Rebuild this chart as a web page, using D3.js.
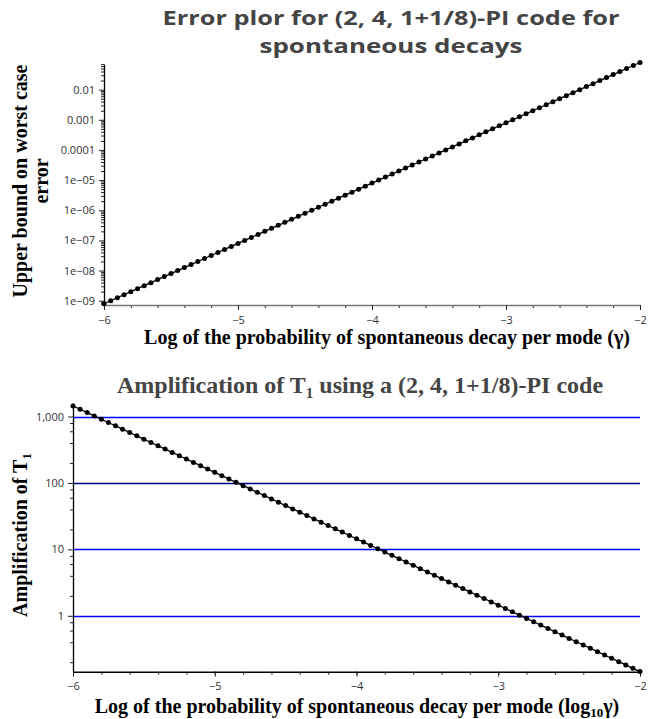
<!DOCTYPE html>
<html>
<head>
<meta charset="utf-8">
<script src="https://cdn.jsdelivr.net/npm/d3@7"></script>
<style>
  body { margin: 0; background: #fff; }
  .tick text { font-family: "Open Sans", sans-serif; font-size: 11px; fill: #333; }
  .serif { font-family: "Liberation Serif", "Times New Roman", serif; font-weight: bold; }
</style>
</head>
<body>
<div id="chart"></div>
<script>
const width = 660;
const height = 719;

// log10 of gamma, shared by both panels
const logGamma = [-6.00,-5.95,-5.90,-5.85,-5.80,-5.75,-5.70,-5.65,-5.60,-5.55,
  -5.50,-5.45,-5.40,-5.35,-5.30,-5.25,-5.20,-5.15,-5.10,-5.05,
  -5.00,-4.95,-4.90,-4.85,-4.80,-4.75,-4.70,-4.65,-4.60,-4.55,
  -4.50,-4.45,-4.40,-4.35,-4.30,-4.25,-4.20,-4.15,-4.10,-4.05,
  -4.00,-3.95,-3.90,-3.85,-3.80,-3.75,-3.70,-3.65,-3.60,-3.55,
  -3.50,-3.45,-3.40,-3.35,-3.30,-3.25,-3.20,-3.15,-3.10,-3.05,
  -3.00,-2.95,-2.90,-2.85,-2.80,-2.75,-2.70,-2.65,-2.60,-2.55,
  -2.50,-2.45,-2.40,-2.35,-2.30,-2.25,-2.20,-2.15,-2.10,-2.05,
  -2.00];

// upper bound on worst case error (top panel)
const errorBound = [7.94e-10,
  1.00e-9,1.26e-9,1.58e-9,2.00e-9,2.51e-9,3.16e-9,3.98e-9,5.01e-9,6.31e-9,7.94e-9,
  1.00e-8,1.26e-8,1.58e-8,2.00e-8,2.51e-8,3.16e-8,3.98e-8,5.01e-8,6.31e-8,7.94e-8,
  1.00e-7,1.26e-7,1.58e-7,2.00e-7,2.51e-7,3.16e-7,3.98e-7,5.01e-7,6.31e-7,7.94e-7,
  1.00e-6,1.26e-6,1.58e-6,2.00e-6,2.51e-6,3.16e-6,3.98e-6,5.01e-6,6.31e-6,7.94e-6,
  1.00e-5,1.26e-5,1.58e-5,2.00e-5,2.51e-5,3.16e-5,3.98e-5,5.01e-5,6.31e-5,7.94e-5,
  1.00e-4,1.26e-4,1.58e-4,2.00e-4,2.51e-4,3.16e-4,3.98e-4,5.01e-4,6.31e-4,7.94e-4,
  1.00e-3,1.26e-3,1.58e-3,2.00e-3,2.51e-3,3.16e-3,3.98e-3,5.01e-3,6.31e-3,7.94e-3,
  1.00e-2,1.26e-2,1.58e-2,2.00e-2,2.51e-2,3.16e-2,3.98e-2,5.01e-2,6.31e-2,7.94e-2];

// amplification of T1 (bottom panel)
const amplification = [1445,1288,1148,1023,912,813,724,646,575,513,
  457,407,363,324,288,257,229,204,182,162,
  144.5,128.8,114.8,102.3,91.2,81.3,72.4,64.6,57.5,51.3,
  45.7,40.7,36.3,32.4,28.8,25.7,22.9,20.4,18.2,16.2,
  14.45,12.88,11.48,10.23,9.12,8.13,7.24,6.46,5.75,5.13,
  4.57,4.07,3.63,3.24,2.88,2.57,2.29,2.04,1.82,1.62,
  1.445,1.288,1.148,1.023,0.912,0.813,0.724,0.646,0.575,0.513,
  0.457,0.407,0.363,0.324,0.288,0.257,0.229,0.204,0.182,0.162,
  0.1445];

const xTicks = [-6, -5, -4, -3, -2];
const errTicks = [1e-9, 1e-8, 1e-7, 1e-6, 1e-5, 1e-4, 1e-3, 1e-2];
const errTickLabels = ['1e\u221209','1e\u221208','1e\u221207','1e\u221206','1e\u221205','0.0001','0.001','0.01'];
const ampTicks = [1, 10, 100, 1000];
const ampTickLabels = ['1', '10', '100', '1,000'];
const refLevels = [1, 10, 100, 1000];
const refColors = ['#0000ff', '#0000ff', '#00008b', '#0000ff'];

const svg = d3.select('#chart').append('svg')
  .attr('width', width).attr('height', height);

function minorTicks(lo, hi, steps) {
  const out = [];
  for (let e = -12; e <= 4; e++) {
    steps.forEach(k => {
      const v = k * Math.pow(10, e);
      if (v >= lo && v <= hi) out.push(v);
    });
  }
  return out;
}

function xMinor() {
  const out = [];
  for (let i = 0; i <= 20; i++) out.push(-6 + i * 0.2);
  return out;
}

function panel(opts) {
  const g = svg.append('g');
  const x = d3.scaleLinear().domain([-6, -2]).range([opts.left, opts.right]);
  const y = d3.scaleLog().domain(opts.yDomain).range([opts.bottom, opts.top]);

  // reference lines
  if (opts.refs) {
    g.selectAll('line.ref')
      .data(opts.refs)
      .join('line')
      .attr('class', 'ref')
      .attr('x1', opts.left).attr('x2', opts.right)
      .attr('y1', d => Math.round(y(d)) + 0.5).attr('y2', d => Math.round(y(d)) + 0.5)
      .attr('stroke', (d, i) => refColors[i])
      .attr('stroke-width', 1.3);
  }

  // minor ticks
  g.append('g')
    .attr('transform', `translate(0,${opts.bottom})`)
    .call(d3.axisBottom(x).tickValues(xMinor()).tickSize(3).tickFormat(''))
    .call(a => a.select('.domain').remove())
    .call(a => a.selectAll('line').attr('stroke', '#222'));
  g.append('g')
    .attr('transform', `translate(${opts.left},0)`)
    .call(d3.axisLeft(y).tickValues(opts.yMinor).tickSize(3).tickFormat(''))
    .call(a => a.select('.domain').remove())
    .call(a => a.selectAll('line').attr('stroke', '#222'));

  // major axes
  g.append('g')
    .attr('transform', `translate(0,${opts.bottom})`)
    .call(d3.axisBottom(x).tickValues(xTicks).tickSize(5).tickSizeOuter(0).tickPadding(6)
      .tickFormat(d => d < 0 ? '\u2212' + Math.abs(d) : d))
    .call(a => a.select('.domain').attr('stroke', opts.xAxisColor).attr('stroke-width', 1.5))
    .call(a => a.selectAll('line').attr('stroke', '#222'));
  g.append('g')
    .attr('transform', `translate(${opts.left},0)`)
    .call(d3.axisLeft(y).tickValues(opts.yTicks).tickSize(5).tickSizeOuter(0).tickPadding(4)
      .tickFormat((d, i) => opts.yLabels[i]))
    .call(a => a.select('.domain').attr('stroke', '#000').attr('stroke-width', 1.3))
    .call(a => a.selectAll('line').attr('stroke', '#222'));

  // series
  const pts = logGamma.map((v, i) => ({ x: v, y: opts.values[i] }));
  g.append('path')
    .datum(pts)
    .attr('fill', 'none')
    .attr('stroke', '#000')
    .attr('stroke-width', 1.3)
    .attr('d', d3.line().x(d => x(d.x)).y(d => y(d.y)));
  g.selectAll('circle.pt')
    .data(pts)
    .join('circle')
    .attr('class', 'pt')
    .attr('cx', d => x(d.x))
    .attr('cy', d => y(d.y))
    .attr('r', 2.5)
    .attr('fill', '#000');

  return g;
}

panel({
  left: 104, right: 640, top: 64, bottom: 305,
  yDomain: [Math.pow(10, -9.142), Math.pow(10, -1.15)],
  yTicks: errTicks, yLabels: errTickLabels,
  yMinor: minorTicks(Math.pow(10, -9.142), Math.pow(10, -1.15), [2,3,4,5,6,7,8,9]),
  values: errorBound,
  xAxisColor: '#777'
});

panel({
  left: 73, right: 640, top: 403, bottom: 671.7,
  yDomain: [0.144, 1600],
  yTicks: ampTicks, yLabels: ampTickLabels,
  yMinor: minorTicks(0.144, 1600, [2,4,6,8]),
  values: amplification,
  refs: refLevels,
  xAxisColor: '#000'
});

// titles
const t1 = svg.append('text')
  .attr('text-anchor', 'middle')
  .style('font-family', '"Open Sans", sans-serif')
  .style('font-weight', 'bold')
  .style('font-size', '20px')
  .attr('fill', '#444');
t1.append('tspan').attr('x', 391).attr('y', 25)
  .attr('textLength', 457).attr('lengthAdjust', 'spacingAndGlyphs')
  .text('Error plor for (2, 4, 1+1/8)-PI code for');
t1.append('tspan').attr('x', 391).attr('y', 53)
  .attr('textLength', 263).attr('lengthAdjust', 'spacingAndGlyphs')
  .text('spontaneous decays');

const t2 = svg.append('text')
  .attr('class', 'serif')
  .attr('x', 360).attr('y', 393)
  .attr('text-anchor', 'middle')
  .style('font-size', '24px')
  .attr('fill', '#444');
t2.append('tspan').text('Amplification of T');
t2.append('tspan').attr('dy', 5).style('font-size', '15px').text('1');
t2.append('tspan').attr('dy', -5).text(' using a (2, 4, 1+1/8)-PI code');

// axis labels
svg.append('text')
  .attr('class', 'serif')
  .attr('x', 387).attr('y', 344)
  .attr('text-anchor', 'middle')
  .style('font-size', '20px')
  .text('Log of the probability of spontaneous decay per mode (\u03b3)');

const xl2 = svg.append('text')
  .attr('class', 'serif')
  .attr('x', 357).attr('y', 713)
  .attr('text-anchor', 'middle')
  .style('font-size', '20px');
xl2.append('tspan').text('Log of the probability of spontaneous decay per mode (log');
xl2.append('tspan').attr('dy', 4).style('font-size', '13px').text('10');
xl2.append('tspan').attr('dy', -4).text('\u03b3)');

const yl1 = svg.append('text')
  .attr('class', 'serif')
  .attr('transform', 'translate(27,181) rotate(-90)')
  .attr('text-anchor', 'middle')
  .style('font-size', '20px');
yl1.append('tspan').attr('x', 0).attr('y', 0).text('Upper bound on worst case');
yl1.append('tspan').attr('x', 0).attr('y', 21).text('error');

const yl2 = svg.append('text')
  .attr('class', 'serif')
  .attr('transform', 'translate(27,535) rotate(-90)')
  .attr('text-anchor', 'middle')
  .style('font-size', '20px');
yl2.append('tspan').text('Amplification of T');
yl2.append('tspan').attr('dy', 4).style('font-size', '13px').text('1');
</script>
</body>
</html>
